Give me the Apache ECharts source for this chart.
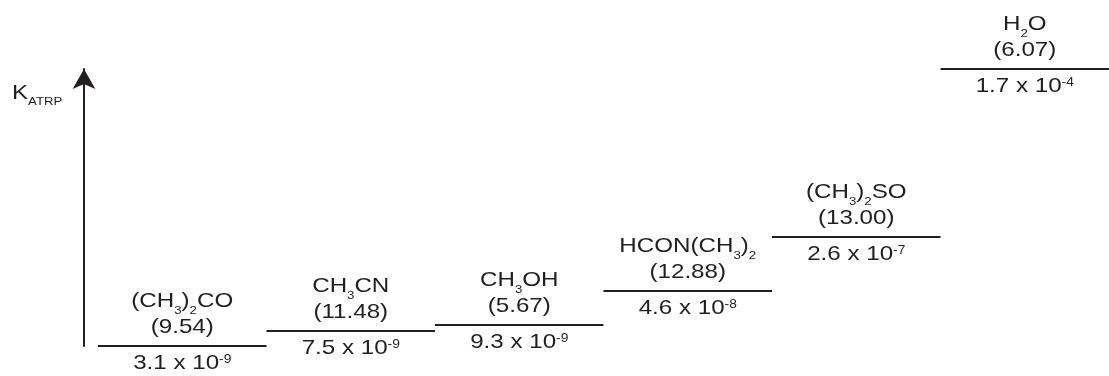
<!DOCTYPE html>
<html><head><meta charset="utf-8">
<script src="https://cdn.jsdelivr.net/npm/echarts@6/dist/echarts.min.js"></script>
<style>html,body{margin:0;padding:0;background:#fff}#c{width:1109px;height:376px}</style>
</head><body><div id="c"></div>
<script>
// Solvent formulas ({s|..} = subscript)
const solvents = ['(CH{s|3}){s|2}CO', 'CH{s|3}CN', 'CH{s|3}OH', 'HCON(CH{s|3}){s|2}', '(CH{s|3}){s|2}SO', 'H{s|2}O'];
// Values shown in parentheses
const paramValues = ['9.54', '11.48', '5.67', '12.88', '13.00', '6.07'];
// K_ATRP mantissa and exponent
const kMantissa = ['3.1', '7.5', '9.3', '4.6', '2.6', '1.7'];
const kExponent = ['-9', '-9', '-9', '-8', '-7', '-4'];
// Relative height of each step (schematic, 0–100)
const stepLevel = [0, 5.4, 7.6, 19.8, 39.2, 100];

const INK = '#231f20';
const FF = '"Liberation Sans", Arial, Helvetica, sans-serif';
const FS = 21;
const SX = 1.15;
const rich = {
  n: { fontSize: FS, lineHeight: 24, fontFamily: FF, fill: INK },
  s: { fontSize: 11.5, lineHeight: 24, fontFamily: FF, fill: INK, padding: [18, 0, 0, 0] },
  p: { fontSize: 12, lineHeight: 24, fontFamily: FF, fill: INK, padding: [0, 0, 8, 0] }
};
function wrapN(str) {
  return str.split(/(\{[sp]\|[^}]*\})/).filter(t => t.length).map(t => t.startsWith('{') ? t : '{n|' + t + '}').join('');
}

const data = solvents.map((s, i) => [i, stepLevel[i]]);

const chart = echarts.init(document.getElementById('c'), null, { renderer: 'canvas' });
chart.setOption({
  animation: false,
  backgroundColor: '#fff',
  graphic: [{
    type: 'text', left: 12, top: 79, scaleX: SX,
    style: {
      text: '{k|K}{a|ATRP}',
      rich: {
        k: { fontSize: 21, lineHeight: 24, fontFamily: FF, fill: INK },
        a: { fontSize: 11.5, lineHeight: 24, fontFamily: FF, fill: INK, padding: [17, 0, 0, 0] }
      }
    }
  }],
  grid: { left: 98, right: -9, top: 69, bottom: 30 },
  xAxis: { type: 'value', min: 0, max: 6, show: false },
  yAxis: {
    type: 'value', min: 0, max: 100, offset: 14, position: 'left',
    axisLine: { show: true, onZero: false, symbol: ['none', 'arrow'], symbolSize: [17, 20], symbolOffset: [0, 0],
      lineStyle: { color: INK, width: 2 } },
    axisTick: { show: false }, axisLabel: { show: false }, splitLine: { show: false }
  },
  series: [{
    type: 'custom',
    clip: false,
    data: data,
    renderItem: function (params, api) {
      const i = api.value(0);
      const p = api.coord([i, api.value(1)]);
      const bw = api.size([1, 0])[0];
      const x0 = p[0], x1 = p[0] + bw, y = Math.round(p[1]);
      const cx = (x0 + x1) / 2;
      const txt = (t, dy) => ({ type: 'text', x: cx, y: y + dy, scaleX: SX,
        style: { text: wrapN(t), rich: rich, align: 'center', verticalAlign: 'middle' } });
      return {
        type: 'group',
        children: [
          { type: 'line', shape: { x1: x0, y1: y, x2: x1, y2: y }, style: { stroke: INK, lineWidth: 2 } },
          txt(solvents[i], -44.5),
          txt('(' + paramValues[i] + ')', -18.5),
          txt(kMantissa[i] + ' x 10{p|' + kExponent[i] + '}', 17.5)
        ]
      };
    }
  }]
});
</script>
</body></html>
